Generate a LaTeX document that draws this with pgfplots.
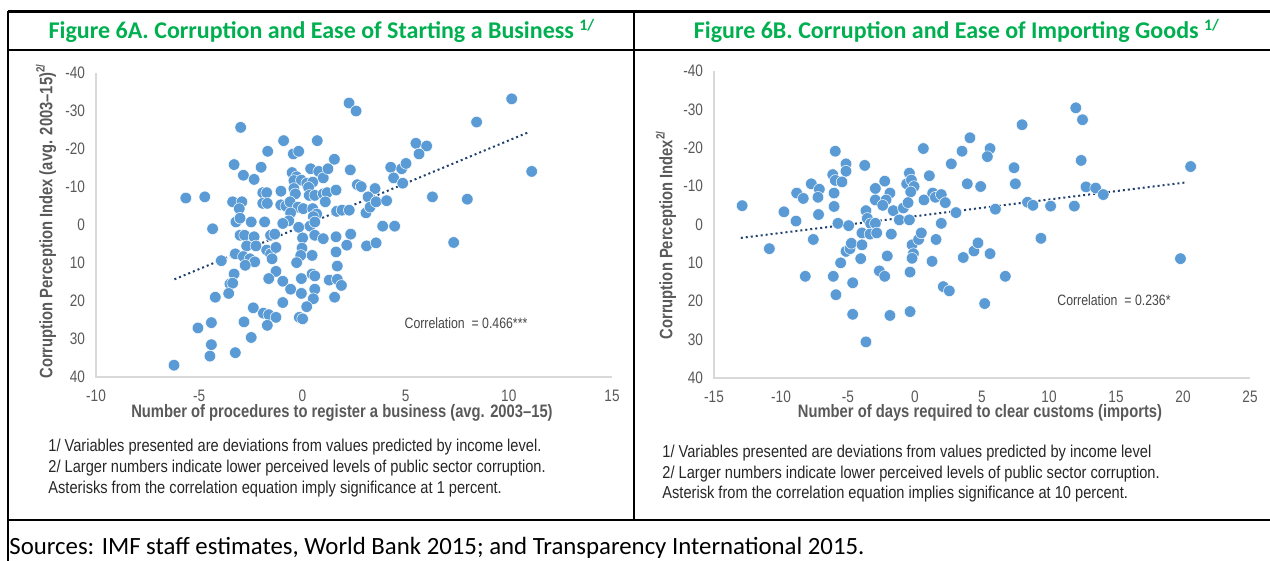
\documentclass[border=0pt]{standalone}
\usepackage{pgfplots}
\pgfplotsset{compat=1.18}
\usepackage{fontspec}
\setmainfont{Carlito}
\newfontfamily\narrow[FakeStretch=0.82]{Liberation Sans}
\newfontfamily\notefont[FakeStretch=0.85]{Liberation Sans}
\definecolor{xgreen}{RGB}{0,176,80}
\definecolor{dotblue}{RGB}{91,155,213}
\definecolor{trend}{RGB}{31,64,110}
\definecolor{txtgray}{RGB}{89,89,89}
\definecolor{axgray}{RGB}{217,217,217}

\pgfplotstableread{
x y
2.26 -32.1
2.60 -30.0
-2.99 -25.7
-0.91 -22.2
0.72 -22.2
-1.68 -19.4
-0.44 -18.7
-0.18 -19.4
1.55 -17.3
-3.31 -15.9
-2.00 -15.2
-2.86 -13.1
-2.34 -12.0
-0.50 -13.8
0.40 -14.8
0.79 -14.1
1.01 -12.4
1.24 -14.8
2.32 -14.5
-0.28 -12.7
-0.41 -11.7
-0.05 -11.8
0.21 -11.0
0.50 -11.3
0.30 -9.9
-0.41 -9.6
-0.34 -8.2
2.66 -10.6
2.85 -10.1
3.52 -9.6
4.28 -15.2
4.81 -14.8
5.02 -16.2
5.50 -21.5
6.02 -20.8
5.65 -18.7
4.42 -12.4
4.86 -11.0
-5.65 -7.1
-4.73 -7.4
-3.38 -6.1
-2.93 -6.1
-3.06 -4.3
-1.92 -8.5
-1.73 -8.5
-1.92 -5.7
-1.70 -5.7
-1.04 -8.9
-1.05 -5.3
-0.80 -5.0
-0.60 -6.1
0.33 -7.8
0.60 -7.8
1.01 -8.2
1.20 -8.5
1.11 -6.1
1.63 -9.2
-0.21 -4.7
0.04 -4.3
0.50 -4.3
0.69 -2.9
0.53 -2.2
-0.57 -3.2
-0.66 -1.1
1.66 -3.6
1.92 -3.9
2.27 -3.9
3.18 -7.4
3.08 -3.2
3.28 -4.7
3.57 -6.1
4.08 -6.4
6.30 -7.4
-3.22 -0.8
-3.02 -1.8
-2.48 -0.8
-1.83 -0.8
-0.95 -0.4
-0.18 0.6
0.37 0.3
0.60 -0.8
3.89 0.3
4.47 0.3
-4.35 1.0
-3.02 2.7
-2.80 2.7
-2.34 3.1
-1.54 2.7
-1.34 2.4
0.01 3.4
0.60 2.7
1.01 3.6
1.63 3.1
2.34 2.4
-2.70 5.5
-2.25 5.5
-3.25 7.6
-3.93 9.4
-2.86 8.3
-2.54 8.9
-2.31 9.7
-2.77 10.6
-1.73 6.6
-1.54 7.6
-1.28 5.9
-1.47 8.9
-0.02 6.1
-0.08 8.0
-0.28 9.9
0.47 8.0
1.63 7.1
2.15 5.3
3.11 5.5
3.57 4.7
1.69 10.8
-3.31 12.9
-3.51 15.5
-3.38 15.3
-3.57 18.0
-4.22 19.0
-1.28 12.2
-1.63 14.1
-0.95 14.8
-0.57 16.9
-0.05 14.1
-0.05 18.0
0.47 12.9
0.60 13.4
0.60 16.9
0.53 19.4
0.21 21.5
1.30 14.5
1.69 14.3
1.89 15.9
1.56 19.0
-0.95 20.4
-2.38 21.8
-1.89 23.2
-1.63 23.6
-1.28 24.3
-0.15 24.3
0.01 24.7
-2.83 25.5
-1.70 26.4
-5.06 27.1
-4.41 25.7
-2.48 29.6
-4.41 31.5
-4.48 34.5
-3.25 33.6
-6.22 36.9
10.14 -33.2
8.44 -27.1
11.11 -14.1
7.99 -6.8
7.33 4.6
}\dataA

\pgfplotstableread{
x y
7.99 -26.0
4.10 -22.6
0.62 -19.8
5.60 -19.8
5.40 -17.7
3.51 -19.1
-5.95 -19.1
-5.15 -15.8
-5.15 -13.9
-3.75 -15.4
2.71 -15.8
-6.14 -13.0
-5.95 -11.5
-5.45 -11.1
-0.42 -13.4
-0.62 -10.6
-0.27 -11.6
-0.07 -9.9
-0.32 -8.5
1.07 -12.7
-7.74 -10.6
-7.14 -9.2
-7.24 -7.1
-8.83 -8.2
-8.34 -6.8
-6.04 -8.2
-6.04 -4.7
3.90 -10.6
4.90 -9.9
7.39 -14.8
7.49 -10.6
-2.96 -9.4
-2.96 -6.4
-2.26 -11.3
-1.87 -8.2
-2.16 -6.4
-2.41 -5.0
-1.62 -3.6
-0.87 -4.3
-0.52 -5.7
0.67 -6.4
1.32 -8.2
1.52 -7.1
1.96 -7.8
2.26 -5.7
3.06 -3.1
6.00 -4.0
-5.75 -0.3
-4.95 0.3
-3.66 -3.6
-3.56 -1.6
-3.31 -0.2
-2.96 -0.3
-1.17 -1.2
-0.42 -1.2
1.96 -0.3
-8.88 -0.9
-9.78 -3.3
-7.20 -2.6
12.0 -30.4
12.5 -27.3
12.4 -16.7
12.76 -9.8
13.48 -9.5
14.05 -7.8
20.57 -15.1
19.81 8.9
11.89 -4.8
10.12 -4.8
8.4 -5.8
8.8 -5.0
9.4 3.6
-12.9 -4.9
-10.87 6.3
-7.59 3.9
-8.19 13.5
-6.10 13.5
-5.90 18.3
-5.55 10.0
-5.15 7.0
-4.85 6.3
-4.75 4.9
-3.96 5.3
-4.05 8.9
-4.65 15.2
-4.65 23.4
-3.66 30.6
-3.96 2.2
-3.36 2.5
-2.86 2.2
-1.77 2.5
-2.07 8.2
-2.66 12.1
-2.26 13.5
-1.87 23.7
-0.37 12.4
-0.37 22.7
-0.22 5.3
-0.12 7.6
-0.22 8.8
0.27 3.9
0.47 2.2
1.57 3.9
1.27 9.6
2.11 16.2
2.56 17.3
5.20 20.6
3.60 8.6
4.40 6.9
4.70 4.8
5.60 7.6
6.74 13.5
}\dataB

\pgfplotsset{
  corrplot/.style={
    scale only axis,
    anchor=south west,
    y dir=reverse,
    ymin=-40, ymax=40,
    ytick={-40,-30,-20,-10,0,10,20,30,40},
    yticklabels={-40,-30,-20,-10,0,10,20,30,40},
    major tick length=0pt,
    axis line style={draw=none},
    tick label style={font=\narrow\fontsize{8.3}{9}\selectfont, text=txtgray},
    yticklabel style={xshift=-2pt},
    xticklabel style={yshift=-3pt},
    clip=false,
  },
  dots/.style={only marks, mark=*, mark size=2.9pt,
    mark options={fill=dotblue, draw=white, line width=0.25pt}},
  trendl/.style={trend, line width=1pt, dash pattern=on 1pt off 1.5pt, no markers},
}

\begin{document}
\begin{tikzpicture}
\path[use as bounding box] (0,0) rectangle (635pt,280.5pt);
% frame
\draw[black, line width=1.5pt] (4pt,274.5pt) -- (635pt,274.5pt);
\draw[black, line width=1.2pt] (4pt,255.5pt) -- (635pt,255.5pt);
\draw[black, line width=1.2pt] (4pt,20.5pt) -- (635pt,20.5pt);
\draw[black, line width=1.2pt] (4pt,275pt) -- (4pt,0pt);
\draw[black, line width=0.8pt] (317pt,275pt) -- (317pt,20.5pt);
% titles
\node[text=xgreen, font=\bfseries\fontsize{12}{14}\selectfont] at (161pt,265pt)
  {Figure 6A. Corruption and Ease of Starting a Business \textsuperscript{1/}};
\node[text=xgreen, font=\bfseries\fontsize{12}{14}\selectfont] at (478.5pt,265pt)
  {Figure 6B. Corruption and Ease of Importing Goods \textsuperscript{1/}};

% left axis
\begin{axis}[corrplot, at={(48pt,92pt)}, width=258pt, height=152pt,
  xmin=-10, xmax=15, xtick={-10,-5,0,5,10,15},
  xticklabels={-10,-5,0,5,10,15}]
\draw[axgray, line width=0.6pt] (axis cs:-10,-40) -- (axis cs:-10,40) -- (axis cs:15,40);
\addplot[dots] table[x=x,y=y] {\dataA};
\addplot[trendl] coordinates {(-6.2,14.3) (10.95,-24.4)};
\end{axis}

% right axis
\begin{axis}[corrplot, at={(357pt,91.5pt)}, width=268pt, height=153.5pt,
  xmin=-15, xmax=25, xtick={-15,-10,-5,0,5,10,15,20,25},
  xticklabels={-15,-10,-5,0,5,10,15,20,25}]
\draw[axgray, line width=0.6pt] (axis cs:-15,-40) -- (axis cs:-15,40) -- (axis cs:25,40);
\addplot[dots] table[x=x,y=y] {\dataB};
\addplot[trendl] coordinates {(-13.0,3.5) (20.3,-11.0)};
\end{axis}

% axis labels
\node[rotate=90, text=txtgray, font=\narrow\bfseries\fontsize{9}{10}\selectfont] at (23pt,170pt)
  {Corruption Perception Index (avg. 2003–15)\textsuperscript{2/}};
\node[rotate=90, text=txtgray, font=\narrow\bfseries\fontsize{9}{10}\selectfont] at (333pt,163pt)
  {Corruption Perception Index\textsuperscript{2/}};
\node[text=txtgray, font=\narrow\bfseries\fontsize{9}{10}\selectfont] at (171pt,74pt)
  {Number of procedures to register a business (avg. 2003–15)};
\node[text=txtgray, font=\narrow\bfseries\fontsize{9}{10}\selectfont] at (490pt,74pt)
  {Number of days required to clear customs (imports)};

% correlation
\node[text=txtgray!80!black, font=\narrow\fontsize{7.5}{9}\selectfont] at (233pt,119pt)
  {Correlation\ \ = 0.466***};
\node[text=txtgray!80!black, font=\narrow\fontsize{7.5}{9}\selectfont] at (557pt,130.5pt)
  {Correlation\ \ = 0.236*};

% notes
\begin{scope}[every node/.style={anchor=west, inner sep=0pt, font=\notefont\fontsize{8.6}{10}\selectfont, text=black!85}]
\node at (24pt,57pt) {1/ Variables presented are deviations\ from values predicted\ by income level.};
\node at (24pt,46.5pt) {2/ Larger numbers indicate\ lower perceived levels of public sector\ corruption.};
\node at (24pt,36pt) {Asterisks\ from the correlation equation\ imply significance\ at 1 percent.};
\node at (331pt,54pt) {1/ Variables presented are deviations\ from values predicted\ by income level};
\node at (331pt,43.5pt) {2/ Larger numbers indicate\ lower perceived levels of public sector corruption.};
\node at (331pt,33.5pt) {Asterisk from the correlation equation\ implies significance\ at 10 percent.};
\end{scope}

% sources
\node[anchor=west, inner sep=0pt, font=\fontsize{12.4}{14}\selectfont] at (4.5pt,6.5pt)
  {Sources: IMF staff estimates, World Bank 2015; and Transparency International 2015.};
\end{tikzpicture}
\end{document}
